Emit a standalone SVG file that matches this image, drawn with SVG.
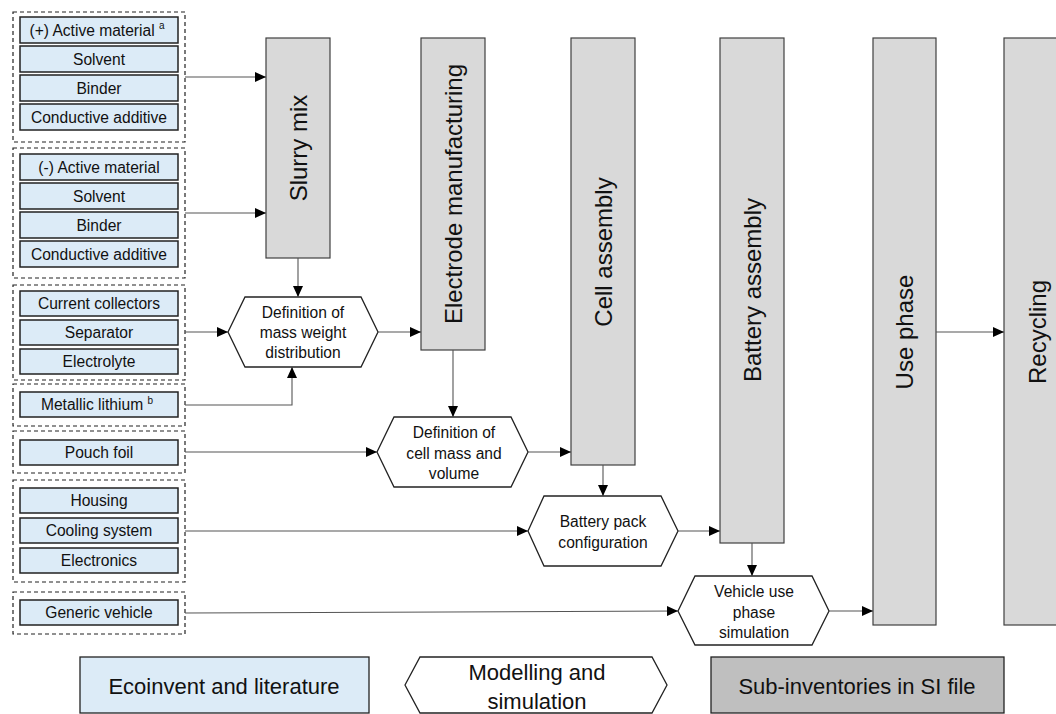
<svg xmlns="http://www.w3.org/2000/svg" width="1056" height="714" viewBox="0 0 1056 714">
<style>
.grp{fill:none;stroke:#222;stroke-width:1.2;stroke-dasharray:4,3}
.item{fill:#DCEBF7;stroke:#222;stroke-width:1.5}
.col{fill:#D9D9D9;stroke:#404040;stroke-width:1.2}
.hex{fill:#fff;stroke:#222;stroke-width:1.3}
.t{font-family:"Liberation Sans",Arial,sans-serif;font-size:15.6px;fill:#111;text-anchor:middle;dominant-baseline:central}
.ct{font-family:"Liberation Sans",Arial,sans-serif;font-size:24px;fill:#111;text-anchor:middle;dominant-baseline:central}
.lt{font-family:"Liberation Sans",Arial,sans-serif;font-size:22px;fill:#111;text-anchor:middle;dominant-baseline:central}
.sup{font-size:10px}
.c{fill:none;stroke:#555;stroke-width:1.1;marker-end:url(#ah)}
</style>
<defs>
<marker id="ah" markerUnits="userSpaceOnUse" markerWidth="11" markerHeight="10" refX="11" refY="5" orient="auto">
<path d="M0,0 L11,5 L0,10 z" fill="#000"/>
</marker>
</defs>
<rect width="1056" height="714" fill="#fff"/>

<g id="group-positive">
<rect class="grp" x="13" y="12" width="172" height="130"/>
<rect class="item" x="20" y="17" width="158" height="26"/><text class="t" x="97" y="30">(+) Active material <tspan class="sup" dy="-5">a</tspan></text>
<rect class="item" x="20" y="46" width="158" height="26"/><text class="t" x="99" y="59">Solvent</text>
<rect class="item" x="20" y="75" width="158" height="26"/><text class="t" x="99" y="88">Binder</text>
<rect class="item" x="20" y="104" width="158" height="26"/><text class="t" x="99" y="117">Conductive additive</text>
</g>
<g id="group-negative">
<rect class="grp" x="13" y="148" width="172" height="130"/>
<rect class="item" x="20" y="154" width="158" height="26"/><text class="t" x="99" y="167">(-) Active material</text>
<rect class="item" x="20" y="183" width="158" height="26"/><text class="t" x="99" y="196">Solvent</text>
<rect class="item" x="20" y="212" width="158" height="26"/><text class="t" x="99" y="225">Binder</text>
<rect class="item" x="20" y="241" width="158" height="26"/><text class="t" x="99" y="254">Conductive additive</text>
</g>
<g id="group-cell">
<rect class="grp" x="13" y="285" width="172" height="95"/>
<rect class="item" x="20" y="291" width="158" height="25"/><text class="t" x="99" y="303.5">Current collectors</text>
<rect class="item" x="20" y="320" width="158" height="25"/><text class="t" x="99" y="332.5">Separator</text>
<rect class="item" x="20" y="349" width="158" height="25"/><text class="t" x="99" y="361.5">Electrolyte</text>
</g>
<g id="group-lithium">
<rect class="grp" x="13" y="384" width="172" height="42"/>
<rect class="item" x="20" y="392" width="158" height="25"/><text class="t" x="97" y="404.5">Metallic lithium <tspan class="sup" dy="-5">b</tspan></text>
</g>
<g id="group-pouch">
<rect class="grp" x="13" y="431" width="172" height="42"/>
<rect class="item" x="20" y="440" width="158" height="25"/><text class="t" x="99" y="452.5">Pouch foil</text>
</g>
<g id="group-pack">
<rect class="grp" x="13" y="480" width="172" height="102"/>
<rect class="item" x="20" y="488" width="158" height="25"/><text class="t" x="99" y="500.5">Housing</text>
<rect class="item" x="20" y="518" width="158" height="25"/><text class="t" x="99" y="530.5">Cooling system</text>
<rect class="item" x="20" y="548" width="158" height="25"/><text class="t" x="99" y="560.5">Electronics</text>
</g>
<g id="group-vehicle">
<rect class="grp" x="13" y="592" width="172" height="42"/>
<rect class="item" x="20" y="600" width="158" height="25"/><text class="t" x="99" y="612.5">Generic vehicle</text>
</g>

<g id="slurry-mix"><rect class="col" x="266" y="38" width="64" height="220"/><text class="ct" transform="translate(298,148) rotate(-90)">Slurry mix</text></g>
<g id="electrode-manufacturing"><rect class="col" x="421" y="38" width="64" height="312"/><text class="ct" transform="translate(453,194) rotate(-90)">Electrode manufacturing</text></g>
<g id="cell-assembly"><rect class="col" x="571" y="38" width="64" height="427"/><text class="ct" transform="translate(603,252) rotate(-90)">Cell assembly</text></g>
<g id="battery-assembly"><rect class="col" x="720" y="38" width="64" height="505"/><text class="ct" transform="translate(752,290) rotate(-90)">Battery assembly</text></g>
<g id="use-phase"><rect class="col" x="873" y="38" width="63" height="587"/><text class="ct" transform="translate(904,332) rotate(-90)">Use phase</text></g>
<g id="recycling"><rect class="col" x="1004" y="38" width="60" height="587"/><text class="ct" transform="translate(1037,332) rotate(-90)">Recycling</text></g>

<g id="hex-mass-weight"><polygon class="hex" points="228,332 245,297 361,297 378,332 361,367 245,367"/>
<text class="t" x="303" y="312">Definition of</text><text class="t" x="303" y="332">mass weight</text><text class="t" x="303" y="352">distribution</text></g>
<g id="hex-cell-mass"><polygon class="hex" points="377,452 394,417 511,417 528,452 511,487 394,487"/>
<text class="t" x="454" y="432">Definition of</text><text class="t" x="454" y="453">cell mass and</text><text class="t" x="454" y="473">volume</text></g>
<g id="hex-pack-config"><polygon class="hex" points="528,531 544,496 661,496 678,531 661,566 544,566"/>
<text class="t" x="603" y="521">Battery pack</text><text class="t" x="603" y="542">configuration</text></g>
<g id="hex-vehicle-sim"><polygon class="hex" points="678,611 695,576 812,576 829,611 812,645 695,645"/>
<text class="t" x="754" y="591">Vehicle use</text><text class="t" x="754" y="612">phase</text><text class="t" x="754" y="632">simulation</text></g>

<g id="connectors">
<path class="c" d="M185,77 H266"/>
<path class="c" d="M185,213 H266"/>
<path class="c" d="M298,258 V297"/>
<path class="c" d="M185,332 H228"/>
<path class="c" d="M185,405 H292 V367"/>
<path class="c" d="M378,332 H421"/>
<path class="c" d="M453,350 V417"/>
<path class="c" d="M185,452 H377"/>
<path class="c" d="M528,452 H571"/>
<path class="c" d="M603,465 V496"/>
<path class="c" d="M185,531 H528"/>
<path class="c" d="M678,531 H720"/>
<path class="c" d="M752,543 V576"/>
<path class="c" d="M185,613 L678,611"/>
<path class="c" d="M829,611 H873"/>
<path class="c" d="M936,332 H1004"/>
</g>

<g id="legend-ecoinvent"><rect x="80" y="657" width="289" height="56" fill="#DCEBF7" stroke="#222" stroke-width="1.3"/><text class="lt" x="224" y="686">Ecoinvent and literature</text></g>
<g id="legend-modelling"><polygon class="hex" points="405,685 420,657 652,657 667,685 652,713 420,713"/><text class="lt" x="537" y="672">Modelling and</text><text class="lt" x="537" y="701">simulation</text></g>
<g id="legend-subinventories"><rect x="711" y="657" width="293" height="56" fill="#BFBFBF" stroke="#222" stroke-width="1.3"/><text class="lt" x="857" y="686">Sub-inventories in SI file</text></g>
</svg>
